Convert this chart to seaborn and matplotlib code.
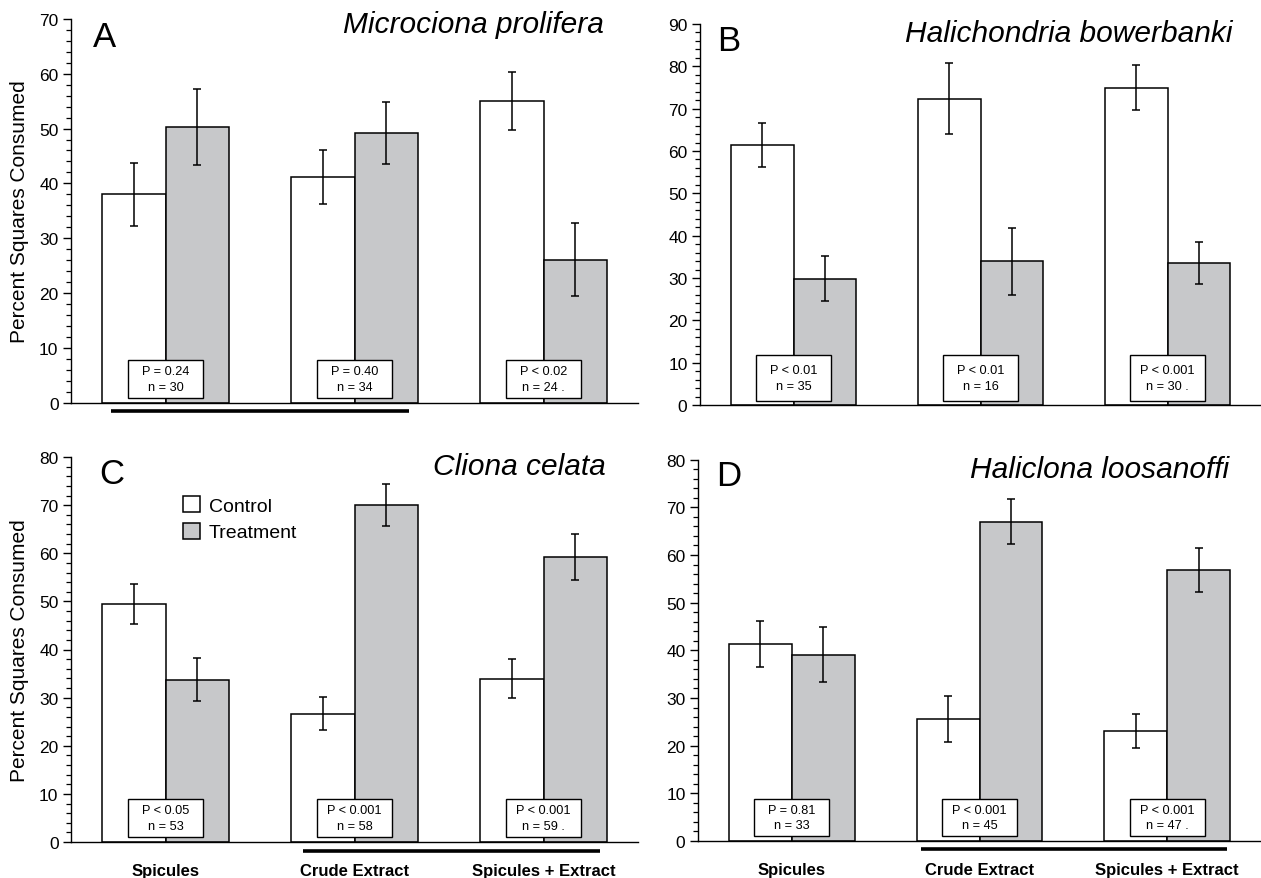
import numpy as np
import pandas as pd
import matplotlib
matplotlib.use("Agg")
import matplotlib.pyplot as plt
import matplotlib.transforms as mtransforms
from matplotlib.patches import Rectangle, Patch
from matplotlib.ticker import MultipleLocator
import seaborn as sns

# ---------------- data ----------------
categories = ["Spicules", "Crude Extract", "Spicules + Extract"]
conditions = ["Control", "Treatment"]

A_species = "Microciona prolifera"
A_control = [38.0, 41.2, 55.1]
A_control_se = [5.7, 4.9, 5.3]
A_treat = [50.3, 49.2, 26.1]
A_treat_se = [7.0, 5.7, 6.7]
A_p = ["P = 0.24", "P = 0.40", "P < 0.02"]
A_n = ["n = 30", "n = 34", "n = 24 ."]

B_species = "Halichondria bowerbanki"
B_control = [61.4, 72.4, 74.9]
B_control_se = [5.2, 8.3, 5.3]
B_treat = [29.8, 33.9, 33.6]
B_treat_se = [5.3, 7.9, 5.0]
B_p = ["P < 0.01", "P < 0.01", "P < 0.001"]
B_n = ["n = 35", "n = 16", "n = 30 ."]

C_species = "Cliona celata"
C_control = [49.5, 26.7, 33.9]
C_control_se = [4.2, 3.5, 4.05]
C_treat = [33.7, 70.0, 59.2]
C_treat_se = [4.5, 4.35, 4.75]
C_p = ["P < 0.05", "P < 0.001", "P < 0.001"]
C_n = ["n = 53", "n = 58", "n = 59 ."]

D_species = "Haliclona loosanoffi"
D_control = [41.3, 25.6, 23.1]
D_control_se = [4.85, 4.75, 3.5]
D_treat = [39.1, 67.0, 56.9]
D_treat_se = [5.8, 4.7, 4.65]
D_p = ["P = 0.81", "P < 0.001", "P < 0.001"]
D_n = ["n = 33", "n = 45", "n = 47 ."]

# grouping bars (in category units) under the x axis
A_bar = [-0.29, 1.29]
C_bar = [0.73, 2.30]
D_bar = [0.69, 2.32]

# ---------------- style ----------------
sns.set_style("ticks")
plt.rcParams["font.family"] = ["Liberation Sans", "DejaVu Sans"]
plt.rcParams["axes.linewidth"] = 1.0
for key in ["text.color", "axes.labelcolor", "xtick.color", "ytick.color",
            "axes.edgecolor"]:
    plt.rcParams[key] = "black"

GRAY = "#c7c8ca"
palette = {"Control": "white", "Treatment": GRAY}

W, H = 1261, 879
fig = plt.figure(figsize=(W / 100, H / 100), dpi=100)

panels = [
    dict(letter="A", species=A_species, ctrl=A_control, ctrl_se=A_control_se,
         trt=A_treat, trt_se=A_treat_se, p=A_p, n=A_n, ymax=70,
         rect=(71, 20, 638, 403.5), bar=A_bar, bar_off=8,
         box_px=(4.5, 38), letter_pos=(0.039, 0.930), title_pos=(0.940, 0.966),
         ylabel=True, xlabels=False, legend=False),
    dict(letter="B", species=B_species, ctrl=B_control, ctrl_se=B_control_se,
         trt=B_treat, trt_se=B_treat_se, p=B_p, n=B_n, ymax=90,
         rect=(700, 25, 1261, 406), bar=None, bar_off=8,
         box_px=(3.7, 46.5), letter_pos=(0.030, 0.932), title_pos=(0.950, 0.956),
         ylabel=False, xlabels=False, legend=False),
    dict(letter="C", species=C_species, ctrl=C_control, ctrl_se=C_control_se,
         trt=C_treat, trt_se=C_treat_se, p=C_p, n=C_n, ymax=80,
         rect=(71, 458, 638, 843), bar=C_bar, bar_off=9,
         box_px=(5, 38), letter_pos=(0.050, 0.932), title_pos=(0.943, 0.956),
         ylabel=True, xlabels=True, legend=True),
    dict(letter="D", species=D_species, ctrl=D_control, ctrl_se=D_control_se,
         trt=D_treat, trt_se=D_treat_se, p=D_p, n=D_n, ymax=80,
         rect=(698, 460.7, 1261, 842), bar=D_bar, bar_off=8,
         box_px=(5, 37), letter_pos=(0.032, 0.934), title_pos=(0.9425, 0.954),
         ylabel=False, xlabels=True, legend=False),
]

for pan in panels:
    x0, y0, x1, y1 = pan["rect"]
    ax = fig.add_axes([x0 / W, 1 - y1 / H, (x1 - x0) / W, (y1 - y0) / H])
    ax_h = y1 - y0

    df = pd.DataFrame({
        "category": categories * 2,
        "condition": [conditions[0]] * 3 + [conditions[1]] * 3,
        "value": list(pan["ctrl"]) + list(pan["trt"]),
    })
    sns.barplot(data=df, x="category", y="value", hue="condition",
                order=categories, hue_order=conditions, palette=palette,
                width=0.67, errorbar=None, edgecolor="black", linewidth=1.1,
                saturation=1, legend=False, ax=ax, zorder=2)

    for cont, errs in zip(ax.containers, [pan["ctrl_se"], pan["trt_se"]]):
        xs = [b.get_x() + b.get_width() / 2 for b in cont]
        ys = [b.get_height() for b in cont]
        ax.errorbar(xs, ys, yerr=errs, fmt="none", ecolor="black",
                    elinewidth=1.1, capsize=3.2, capthick=1.1, zorder=3)

    ax.set_xlim(-0.5, 2.5)
    ax.set_ylim(0, pan["ymax"])
    ax.yaxis.set_major_locator(MultipleLocator(10))
    ax.yaxis.set_minor_locator(MultipleLocator(2))
    ax.tick_params(axis="y", which="major", length=6, width=1.0,
                   labelsize=12.5, pad=3, direction="out", color="black",
                   labelcolor="black")
    ax.tick_params(axis="y", which="minor", length=3.5, width=0.9,
                   direction="out", color="black")
    ax.tick_params(axis="x", length=0, pad=15, labelcolor="black")
    sns.despine(ax=ax)
    for side in ["left", "bottom"]:
        ax.spines[side].set_color("black")
    ax.set_xlabel("")

    ax.set_xticks(range(len(categories)))
    if pan["xlabels"]:
        ax.set_xticklabels(categories, fontsize=12, fontweight="bold")
    else:
        ax.set_xticklabels([])

    if pan["ylabel"]:
        ax.set_ylabel("Percent Squares Consumed", fontsize=15, color="black")
        ax.yaxis.set_label_coords(-0.074, 0.5)
    else:
        ax.set_ylabel("")

    trans = mtransforms.blended_transform_factory(ax.transData, ax.transAxes)
    bpx, hpx = pan["box_px"]
    bw = 0.40
    for i, (ptxt, ntxt) in enumerate(zip(pan["p"], pan["n"])):
        ax.add_patch(Rectangle((i - bw / 2, bpx / ax_h), bw, hpx / ax_h,
                               transform=trans, facecolor="white",
                               edgecolor="black", linewidth=1.0, zorder=4))
        ax.text(i, (bpx + hpx / 2) / ax_h, ptxt + "\n" + ntxt, transform=trans,
                ha="center", va="center", multialignment="center",
                fontsize=9.2, linespacing=1.4, zorder=5, color="black")

    if pan["bar"] is not None:
        ax.plot(pan["bar"], [-pan["bar_off"] / ax_h] * 2, transform=trans,
                color="black", linewidth=2.6, solid_capstyle="butt",
                clip_on=False, zorder=5)

    lx, ly = pan["letter_pos"]
    ax.text(lx, ly, pan["letter"], transform=ax.transAxes, fontsize=25,
            ha="left", va="baseline", color="black")
    tx, ty = pan["title_pos"]
    ax.text(tx, ty, pan["species"], transform=ax.transAxes, fontsize=21.5,
            style="italic", ha="right", va="baseline", color="black")

    if pan["legend"]:
        handles = [Patch(facecolor=palette[c], edgecolor="black", linewidth=1.1,
                         label=c) for c in conditions]
        leg = ax.legend(handles=handles, loc="upper left",
                        bbox_to_anchor=(0.197, 0.898), frameon=False, fontsize=14,
                        handlelength=0.88, handleheight=0.88, handletextpad=0.45,
                        labelspacing=0.4, borderpad=0, borderaxespad=0)
        for t in leg.get_texts():
            t.set_color("black")

fig.savefig("out.png", dpi=100)
